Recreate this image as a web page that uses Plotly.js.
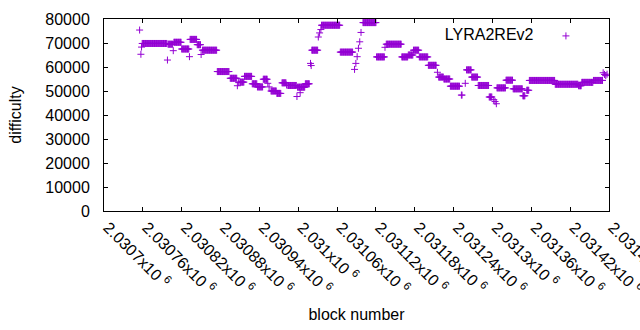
<!DOCTYPE html>
<html>
<head>
<meta charset="utf-8">
<script src="https://cdn.plot.ly/plotly-3.0.1.min.js"></script>
<style>html,body{margin:0;padding:0;background:#fff;}#chart{width:640px;height:330px;}</style>
</head>
<body>
<div id="chart"></div>
<script>
// Runs of blocks sharing the same difficulty
var runStart = [2030755,2030757,2030758,2030759,2030798,2030799,2030807,2030808,2030820,2030832,
                2030833,2030844,2030850,2030852,2030875,2030895,2030906,2030908,2030910,2030917,
                2030929,2030937,2030946,2030953,2030955,2030958,2030967,2030975,2030982,2030984,
                2030998,2030999,2031003,2031011,2031019,2031020,2031021,2031031,2031033,2031035,
                2031036,2031065,2031087,2031089,2031091,2031093,2031095,2031097,2031100,2031121,
                2031134,2031136,2031160,2031170,2031178,2031187,2031201,2031215,2031217,2031225,
                2031235,2031252,2031258,2031260,2031268,2031278,2031295,2031302,2031304,2031306,
                2031307,2031321,2031332,2031347,2031353,2031357,2031397,2031433,2031438,2031456,
                2031471,2031473,2031475,2031477];
var runEnd   = [2030755,2030757,2030758,2030797,2030798,2030806,2030807,2030819,2030831,2030832,
                2030843,2030849,2030850,2030874,2030893,2030905,2030906,2030908,2030916,2030928,
                2030936,2030945,2030952,2030953,2030955,2030966,2030973,2030981,2030982,2030997,
                2030998,2031010,2031003,2031017,2031019,2031020,2031030,2031031,2031033,2031035,
                2031064,2031084,2031087,2031089,2031091,2031093,2031095,2031097,2031120,2031133,
                2031134,2031159,2031169,2031177,2031186,2031200,2031213,2031215,2031224,2031234,
                2031249,2031253,2031258,2031267,2031277,2031294,2031299,2031302,2031304,2031306,
                2031320,2031331,2031346,2031350,2031356,2031396,2031432,2031437,2031455,2031470,
                2031471,2031473,2031475,2031477];
var runDifficulty = [75400,65300,68300,69800,62900,69500,66800,70300,67500,64300,
                71500,69300,65200,67000,58100,55300,52200,53500,53700,56100,
                53000,51700,54900,53200,51700,50000,49000,53400,52500,52300,
                47700,51600,49300,53000,61500,60600,67000,72500,74200,75600,
                77400,66200,59000,61500,64300,67800,70500,74400,78500,64200,
                68200,69500,64200,65000,67000,64200,60700,57800,55800,55000,
                52000,48300,53200,58800,55800,52300,47500,46400,45600,44700,
                51300,54500,50900,48000,50300,54400,52800,52200,53600,54400,
                57600,56900,56400,57000];

var tickValues = [2030700,2030760,2030820,2030880,2030940,2031000,2031060,2031120,2031180,2031240,2031300,2031360,2031420,2031480];
var tickLabels = ["2.0307","2.03076","2.03082","2.03088","2.03094","2.031","2.03106","2.03112","2.03118","2.03124","2.0313","2.03136","2.03142","2.03148"];
var yTicks = [0,10000,20000,30000,40000,50000,60000,70000,80000];

var blocks = [], difficulty = [];
for (var i = 0; i < runStart.length; i++) {
  for (var b = runStart[i]; b <= runEnd[i]; b++) { blocks.push(b); difficulty.push(runDifficulty[i]); }
}

var font = {family: "Liberation Sans, Arial, sans-serif", size: 16, color: "#000"};
var trace = {
  x: blocks, y: difficulty, type: "scatter", mode: "markers", name: " ",
  marker: {symbol: "cross-thin", size: 5, color: "#9400d3", line: {width: 1, color: "#9400d3"}},
  showlegend: true
};
var layout = {
  width: 640, height: 330,
  margin: {l: 104, r: 31, t: 19, b: 119, pad: 0},
  paper_bgcolor: "#fff", plot_bgcolor: "#fff",
  font: font,
  showlegend: true,
  legend: {
    x: 0.671, y: 1.0, xanchor: "left", yanchor: "top",
    bgcolor: "rgba(0,0,0,0)", borderwidth: 0,
    title: {text: "LYRA2REv2\u00a0", side: "left", font: font},
    font: font
  },
  xaxis: {
    range: [2030700, 2031480], tickmode: "array", tickvals: tickValues,
    ticktext: tickLabels.map(function(t){return t + "x10 <sup>6</sup>";}),
    tickangle: 45, ticks: "inside", ticklen: 4, tickcolor: "#000",
    ticklabeloverflow: "allow", ticklabelshift: 4,
    showline: true, linecolor: "#000", linewidth: 1, mirror: "ticks",
    showgrid: false, zeroline: false, tickfont: font,
    title: {text: "block number", font: font, standoff: 12}
  },
  yaxis: {
    range: [0, 80000], tickmode: "array", tickvals: yTicks,
    ticktext: yTicks.map(String),
    ticks: "inside", ticklen: 4, tickcolor: "#000",
    showline: true, linecolor: "#000", linewidth: 1, mirror: "ticks",
    showgrid: false, zeroline: false, tickfont: font, ticklabelstandoff: 10,
    title: {text: "difficulty", font: font, standoff: 19}
  }
};
Plotly.newPlot("chart", [trace], layout, {staticPlot: true, displayModeBar: false});
</script>
</body>
</html>
